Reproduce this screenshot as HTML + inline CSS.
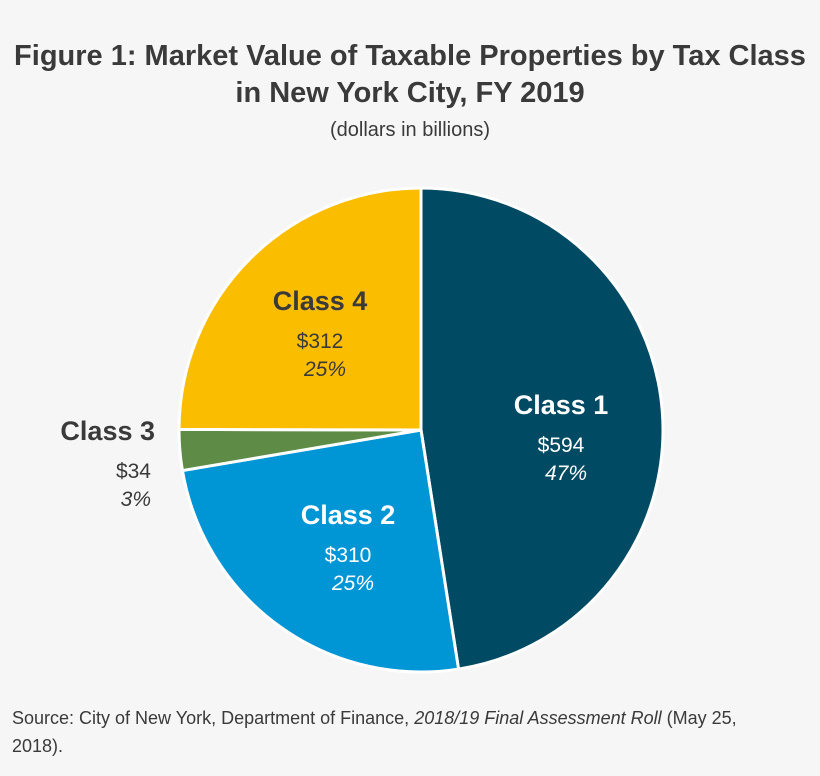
<!DOCTYPE html>
<html><head><meta charset="utf-8">
<style>
body{margin:0;background:#f6f6f6;width:820px;height:771px;overflow:hidden;font-family:"Liberation Sans",sans-serif;color:#3a3a3a}
</style></head>
<body>
<svg width="820" height="771">
<rect width="820" height="771" fill="#f6f6f6"/>
<text x="410" y="65" text-anchor="middle" font-size="29" font-weight="bold" fill="#3a3a3a">Figure 1: Market Value of Taxable Properties by Tax Class</text>
<text x="410" y="102" text-anchor="middle" font-size="29" font-weight="bold" fill="#3a3a3a">in New York City, FY 2019</text>
<text x="410" y="136" text-anchor="middle" font-size="20" fill="#3a3a3a">(dollars in billions)</text>
<g id="pie"></g>
<g id="labels"></g>
<text x="12" y="724" font-size="18" fill="#3a3a3a">Source: City of New York, Department of Finance, <tspan font-style="italic">2018/19 Final Assessment Roll</tspan> (May 25,</text>
<text x="12" y="752" font-size="18" fill="#3a3a3a">2018).</text>
</svg>
<script>
const categories=["Class 1","Class 2","Class 3","Class 4"];
const values=[594,310,34,312];
const percents=["47%","25%","3%","25%"];
const colors=["#004a63","#0096d6","#5e8b46","#fbbd00"];
const cx=421,cy=430,r=242;
const ns="http://www.w3.org/2000/svg";
const total=values.reduce((a,b)=>a+b,0);
function pt(a,rr){return [cx+rr*Math.sin(a),cy-rr*Math.cos(a)];}
const pie=document.getElementById('pie'),lab=document.getElementById('labels');
let acc=0;
const labelPos=[[561,404,"#fff","middle"],[348,514,"#fff","middle"],[155,430,"#3a3a3a","end"],[320,300,"#3a3a3a","middle"]];
values.forEach((v,i)=>{
  const a0=acc/total*2*Math.PI; acc+=v; const a1=acc/total*2*Math.PI;
  const p0=pt(a0,r),p1=pt(a1,r);
  const large=(a1-a0)>Math.PI?1:0;
  const p=document.createElementNS(ns,'path');
  p.setAttribute('d',`M${cx},${cy}L${p0[0]},${p0[1]}A${r},${r} 0 ${large} 1 ${p1[0]},${p1[1]}Z`);
  p.setAttribute('fill',colors[i]);p.setAttribute('stroke','#fff');p.setAttribute('stroke-width','3');
  
  
  pie.appendChild(p);
  const [lx,ly,col,anc]=labelPos[i];
  const lines=[[categories[i],27,'bold','normal',0],['$'+values[i],21,'normal','normal',38],[percents[i],21,'normal','italic',66]];
  lines.forEach((L,j)=>{
    const t=document.createElementNS(ns,'text');
    let x=lx;
    if(anc==='middle'){ if(j==2) x=lx+5; }
    else { if(j>0) x=lx-4; }
    t.setAttribute('x',x);
    t.setAttribute('y',ly+L[4]+10);
    t.setAttribute('text-anchor',anc);
    t.setAttribute('font-size',L[1]);t.setAttribute('font-weight',L[2]);t.setAttribute('font-style',L[3]);
    t.setAttribute('fill',col);
    t.textContent=L[0];
    
    
    lab.appendChild(t);
  });
});
</script>
</body></html>
